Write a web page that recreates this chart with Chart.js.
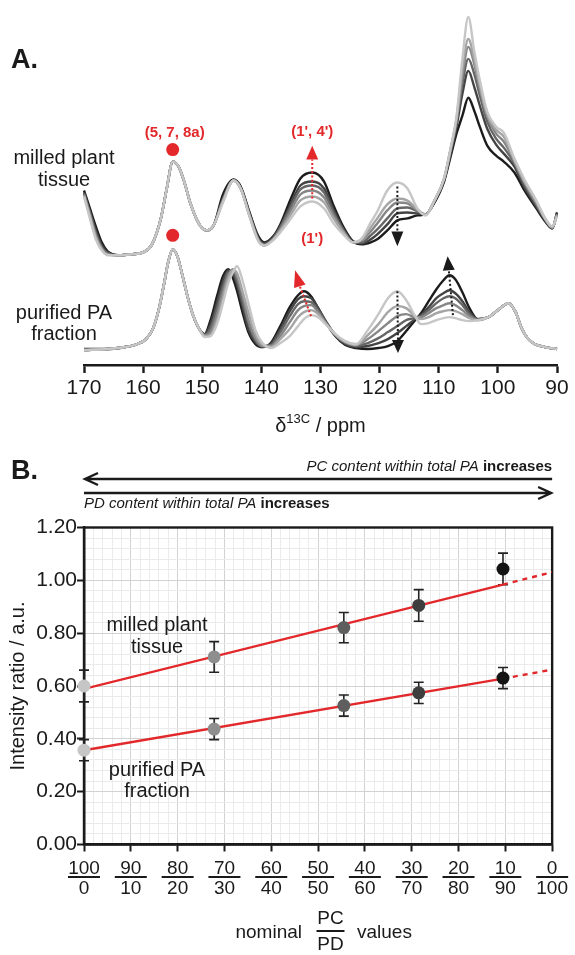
<!DOCTYPE html>
<html>
<head>
<meta charset="utf-8">
<script src="https://cdn.jsdelivr.net/npm/chart.js@4.4.1/dist/chart.umd.min.js"></script>
<style>
  body { margin: 0; background: #fff; }
  #wrap { position: relative; width: 575px; height: 955px; }
  canvas { position: absolute; left: 0; }
  #spectra { top: 0; }
  #ratio { top: 440px; }
</style>
</head>
<body>
<div id="wrap">
  <canvas id="spectra" width="575" height="440"></canvas>
  <canvas id="ratio" width="575" height="515"></canvas>
</div>
<script>
// ---- A. 13C spectra (intensity in a.u., traces offset) ----
const ppmMilled = [170, 169, 168, 167, 166, 164, 162, 160, 158.5, 157, 156, 155, 154, 153, 152, 150.5, 149.2, 148, 146.5, 144.7, 143.5, 142, 140.5, 139.5, 138, 136.8, 135, 133.4, 131.4, 129.4, 127.8, 126, 124.5, 123, 121.5, 120.4, 118.7, 117, 115.3, 113.6, 112.2, 110.8, 109.1, 108, 107, 106, 105, 104, 103, 101.8, 100.3, 99, 97.2, 95.5, 93.5, 92, 90.8, 90];

// darkest (1) to lightest (6)
const milled1 = [175, 157, 139, 123, 114, 110, 111, 113, 121, 147, 177, 204, 199, 183, 162, 141, 135, 141, 171, 186, 179, 153, 129, 123, 129, 141, 167, 187, 193, 184, 160, 137, 124, 121, 123, 126, 135, 145, 147, 150, 151, 162, 184, 209, 232, 250, 268, 255, 238, 220, 210, 204, 193, 175, 157, 144, 137, 153];
const milled2 = [173, 154, 135, 120, 113, 110, 111, 113, 121, 147, 177, 204, 199, 183, 162, 141, 135, 141, 167, 185, 178, 152, 127, 122, 128, 139, 162, 180, 184, 177, 156, 135, 124, 122, 126, 131, 141, 152, 153, 152, 151, 163, 185, 212, 239, 272, 295, 279, 259, 237, 221, 212, 199, 178, 159, 145, 137, 152];
const milled3 = [172, 152, 132, 118, 112, 110, 111, 113, 121, 147, 177, 204, 199, 183, 162, 141, 135, 141, 166, 185, 177, 151, 126, 121, 127, 138, 159, 176, 180, 173, 153, 134, 123, 123, 130, 136, 147, 157, 158, 154, 151, 164, 186, 214, 243, 282, 307, 292, 269, 244, 227, 218, 202, 181, 161, 146, 138, 151];
const milled4 = [171, 151, 130, 117, 111, 110, 111, 113, 121, 147, 177, 204, 199, 183, 162, 141, 135, 141, 165, 185, 177, 150, 125, 120, 126, 136, 155, 171, 175, 168, 150, 133, 123, 125, 134, 142, 155, 163, 162, 155, 151, 164, 187, 216, 245, 289, 319, 302, 275, 249, 232, 224, 204, 183, 162, 146, 138, 151];
const milled5 = [170, 149, 128, 116, 111, 110, 111, 113, 121, 147, 177, 204, 199, 183, 162, 141, 135, 141, 164, 185, 177, 149, 125, 120, 126, 135, 151, 165, 169, 163, 147, 132, 123, 126, 138, 147, 161, 167, 165, 156, 151, 164, 187, 217, 247, 297, 327, 307, 279, 251, 236, 229, 205, 184, 164, 147, 138, 150];
const milled6 = [169, 147, 126, 115, 110, 110, 111, 113, 121, 147, 177, 204, 199, 183, 162, 141, 135, 141, 163, 185, 177, 149, 124, 120, 125, 133, 147, 159, 164, 157, 142, 130, 123, 127, 143, 154, 175, 183, 177, 157, 150, 164, 187, 217, 249, 307, 349, 315, 284, 254, 239, 233, 207, 186, 165, 147, 139, 149];

const ppmPurified = [170, 166, 163, 161, 159.5, 158.3, 157.3, 156.5, 155.8, 155, 154.2, 153.4, 152.5, 151.5, 150.5, 149.6, 148.6, 147.5, 146.5, 145.6, 144.8, 144.1, 143.2, 142.2, 141, 139.8, 138.4, 136.8, 135.2, 133.8, 132.8, 131.6, 130.4, 129, 127.5, 125.8, 124, 122, 120.2, 118.6, 117, 115.5, 114, 113, 111.7, 110.4, 109.2, 108.2, 107.2, 106, 104.8, 103.4, 101.6, 100, 98.2, 97, 96, 95, 93.8, 92, 90];

const purified1 = [16, 16, 18, 21, 26, 37, 57, 80, 102, 116, 109, 91, 69, 49, 36, 31, 45, 69, 89, 96, 87, 74, 53, 33, 21, 18, 22, 39, 58, 70, 74, 69, 57, 42, 29, 20, 17, 16, 17, 19, 24, 34, 45, 52, 64, 76, 85, 90, 86, 73, 57, 46, 48, 55, 62, 53, 37, 27, 21, 18, 16];
const purified2 = [15, 16, 18, 21, 26, 37, 57, 80, 102, 116, 109, 91, 69, 49, 36, 31, 41, 63, 84, 95, 91, 80, 59, 36, 23, 18, 21, 36, 54, 66, 69, 67, 57, 43, 30, 21, 18, 19, 22, 26, 32, 39, 46, 50, 58, 67, 72, 75, 72, 64, 53, 46, 48, 55, 62, 53, 37, 27, 21, 18, 16];
const purified3 = [15, 16, 18, 21, 26, 37, 57, 80, 102, 116, 109, 91, 69, 49, 36, 30, 37, 57, 78, 93, 94, 84, 64, 42, 25, 19, 20, 33, 49, 61, 64, 63, 55, 42, 30, 22, 19, 22, 27, 33, 39, 45, 47, 49, 55, 62, 67, 69, 67, 60, 51, 46, 48, 55, 62, 53, 37, 27, 21, 18, 16];
const purified4 = [15, 16, 18, 21, 26, 37, 57, 80, 102, 116, 109, 91, 69, 49, 36, 30, 33, 51, 73, 90, 96, 88, 70, 45, 27, 19, 19, 29, 43, 55, 59, 60, 53, 41, 30, 23, 20, 26, 34, 42, 49, 51, 48, 48, 52, 57, 60, 62, 60, 55, 49, 45, 48, 55, 62, 53, 37, 27, 21, 18, 16];
const purified5 = [15, 16, 18, 21, 26, 37, 57, 80, 102, 116, 109, 91, 69, 49, 36, 29, 30, 45, 67, 87, 95, 92, 74, 53, 31, 20, 18, 26, 36, 48, 53, 55, 51, 41, 31, 23, 20, 30, 41, 53, 59, 57, 49, 46, 48, 52, 54, 55, 54, 51, 47, 45, 48, 55, 62, 53, 37, 27, 21, 18, 16];
const purified6 = [15, 16, 18, 21, 26, 37, 57, 80, 102, 116, 109, 91, 69, 49, 36, 28, 29, 41, 62, 82, 93, 99, 85, 62, 35, 22, 17, 22, 29, 39, 46, 50, 48, 40, 31, 24, 21, 35, 51, 67, 74, 65, 49, 41, 42, 45, 47, 48, 47, 45, 44, 45, 48, 55, 62, 53, 37, 27, 21, 18, 16];

// ---- B. intensity ratio vs nominal PC content ----
const pcContent = [100, 72.2, 44.5, 28.5, 10.5];
const milledRatio = [0.600, 0.710, 0.821, 0.905, 1.043];
const milledErr = [0.060, 0.058, 0.057, 0.060, 0.060];
const purifiedRatio = [0.357, 0.437, 0.526, 0.574, 0.630];
const purifiedErr = [0.040, 0.040, 0.040, 0.040, 0.040];
const fitPC = [100, 10.5, 0];
const milledFit = [0.589, 0.984, 1.031];
const purifiedFit = [0.357, 0.628, 0.662];

const shades = ["#1c1c1c", "#444444", "#666666", "#868686", "#a5a5a5", "#c6c6c6"];
const pointShades = ["#c6c6c6", "#8e8e8e", "#5e5e5e", "#3e3e3e", "#141414"];
const red = "#e2282a";
const ink = "#1a1a1a";
const FONT = "'Liberation Sans', Arial, sans-serif";

Chart.defaults.font.family = FONT;
Chart.defaults.color = ink;

function traceSets(ppm, series) {
    return series.map((vals, i) => ({
        data: vals.map((v, j) => ({ x: ppm[j], y: v })),
        borderColor: shades[i],
        borderWidth: 2.4,
        pointRadius: 0,
        cubicInterpolationMode: "monotone",
        order: series.length - i, // lighter traces drawn on top
        clip: false,
    }));
}

function dot(ctx, x, y, r, color) {
    ctx.fillStyle = color;
    ctx.beginPath();
    ctx.arc(x, y, r, 0, Math.PI * 2);
    ctx.fill();
}

// dotted shaft from tail to base, filled head from base to tip
function arrow(ctx, tail, base, tip, color, half) {
    ctx.strokeStyle = color;
    ctx.fillStyle = color;
    ctx.lineWidth = 2;
    ctx.setLineDash([2, 2.2]);
    ctx.beginPath();
    ctx.moveTo(tail[0], tail[1]);
    ctx.lineTo(base[0], base[1]);
    ctx.stroke();
    ctx.setLineDash([]);
    const dx = tip[0] - base[0], dy = tip[1] - base[1];
    const len = Math.hypot(dx, dy);
    const nx = -dy / len * half, ny = dx / len * half;
    ctx.beginPath();
    ctx.moveTo(tip[0], tip[1]);
    ctx.lineTo(base[0] + nx, base[1] + ny);
    ctx.lineTo(base[0] - nx, base[1] - ny);
    ctx.closePath();
    ctx.fill();
}

function text(ctx, str, x, y, font, color, align) {
    ctx.font = font;
    ctx.fillStyle = color || ink;
    ctx.textAlign = align || "center";
    ctx.textBaseline = "middle";
    ctx.fillText(str, x, y);
}

// annotations for the spectra
const spectraNotes = {
    id: "spectraNotes",
    afterDraw(chart) {
        const { ctx } = chart;
        const sx = chart.scales.x, sy = chart.scales.y;
        const P = (ppm, h) => [sx.getPixelForValue(ppm), sy.getPixelForValue(h)];
        ctx.save();

        text(ctx, "A.", 11, 61, "bold 27px " + FONT, ink, "left");
        text(ctx, "milled plant", 64, 158, "20px " + FONT);
        text(ctx, "tissue", 64, 180, "20px " + FONT);
        text(ctx, "purified PA", 64, 313, "20px " + FONT);
        text(ctx, "fraction", 64, 334, "20px " + FONT);

        // red markers
        let p = P(155, 233);
        text(ctx, "(5, 7, 8a)", p[0] + 2, p[1], "bold 15px " + FONT, red);
        p = P(155, 216);
        dot(ctx, p[0], p[1], 6.5, red);
        p = P(155, 130);
        dot(ctx, p[0], p[1], 6.5, red);
        p = P(131.4, 234);
        text(ctx, "(1', 4')", p[0], p[1], "bold 15px " + FONT, red);
        p = P(131.4, 127);
        text(ctx, "(1')", p[0], p[1], "bold 15px " + FONT, red);

        arrow(ctx, P(131.4, 167), P(131.4, 206), P(131.4, 220), red, 6);
        arrow(ctx, P(131.6, 49), P(133.5, 79), P(134.3, 95), red, 6);
        arrow(ctx, P(117, 179), P(117, 134), P(117, 119), ink, 6);
        arrow(ctx, P(107.6, 50), P(108.3, 95), P(108.5, 109), ink, 6);
        arrow(ctx, P(117, 74), P(116.9, 25), P(116.9, 12), ink, 6);

        // axis title with superscript
        const cx = (chart.chartArea.left + chart.chartArea.right) / 2;
        const base = 432;
        ctx.textBaseline = "alphabetic";
        ctx.textAlign = "left";
        ctx.font = "20px " + FONT;
        const w1 = ctx.measureText("\u03b4").width;
        const w3 = ctx.measureText(" / ppm").width;
        ctx.font = "13px " + FONT;
        const w2 = ctx.measureText("13C").width;
        let x0 = cx - (w1 + w2 + w3) / 2;
        ctx.fillStyle = ink;
        ctx.font = "20px " + FONT;
        ctx.fillText("\u03b4", x0, base);
        ctx.font = "13px " + FONT;
        ctx.fillText("13C", x0 + w1, base - 9);
        ctx.font = "20px " + FONT;
        ctx.fillText(" / ppm", x0 + w1 + w2, base);
        ctx.restore();
    },
};

new Chart(document.getElementById("spectra"), {
    type: "line",
    data: {
        datasets: [
            ...traceSets(ppmMilled, [milled1, milled2, milled3, milled4, milled5, milled6]),
            ...traceSets(ppmPurified, [purified1, purified2, purified3, purified4, purified5, purified6]),
        ],
    },
    options: {
        responsive: false,
        animation: false,
        layout: { padding: { top: 16, left: 84, right: 18, bottom: 0 } },
        plugins: { legend: { display: false }, tooltip: { enabled: false } },
        scales: {
            x: {
                type: "linear",
                min: 90,
                max: 170,
                reverse: true,
                afterFit: (s) => { s.height = 75; },
                ticks: {
                    stepSize: 10,
                    maxRotation: 0,
                    padding: 5,
                    color: ink,
                    font: { size: 21, lineHeight: 1 },
                },
                grid: { drawOnChartArea: false, tickLength: 8, tickColor: ink, tickWidth: 2.4 },
                border: { color: ink, width: 2.4 },
            },
            y: { display: false, min: 0, max: 350 },
        },
    },
    plugins: [spectraNotes],
});

// ---- B. ratio chart ----
const isMajorY = (v) => Math.abs(Math.round(v / 0.2) * 0.2 - v) < 1e-6;
const isMajorX = (v) => Math.round(v) % 10 === 0;

function errorBars(ctx, sx, sy, xs, ys, es) {
    ctx.strokeStyle = "#222";
    ctx.lineWidth = 1.6;
    xs.forEach((xv, i) => {
        const x = sx.getPixelForValue(xv);
        const y1 = sy.getPixelForValue(ys[i] + es[i]);
        const y2 = sy.getPixelForValue(ys[i] - es[i]);
        ctx.beginPath();
        ctx.moveTo(x, y1); ctx.lineTo(x, y2);
        ctx.moveTo(x - 5, y1); ctx.lineTo(x + 5, y1);
        ctx.moveTo(x - 5, y2); ctx.lineTo(x + 5, y2);
        ctx.stroke();
    });
}

const ratioNotes = {
    id: "ratioNotes",
    beforeDatasetsDraw(chart) {
        const { ctx, chartArea: a } = chart;
        ctx.save();
        ctx.strokeStyle = ink;
        ctx.lineWidth = 2.4;
        ctx.strokeRect(a.left, a.top, a.right - a.left, a.bottom - a.top);
        errorBars(ctx, chart.scales.x, chart.scales.y, pcContent, milledRatio, milledErr);
        errorBars(ctx, chart.scales.x, chart.scales.y, pcContent, purifiedRatio, purifiedErr);
        ctx.restore();
    },
    afterDraw(chart) {
        const { ctx, chartArea: a } = chart;
        const sx = chart.scales.x;
        ctx.save();
        text(ctx, "B.", 11, 32, "bold 27px " + FONT, ink, "left");

        // direction arrows
        ctx.strokeStyle = ink;
        ctx.lineWidth = 2.4;
        ctx.beginPath();
        ctx.moveTo(a.left + 1, 39); ctx.lineTo(a.right, 39);
        ctx.moveTo(a.left + 14, 33); ctx.lineTo(a.left + 1, 39); ctx.lineTo(a.left + 14, 45);
        ctx.moveTo(a.left, 53); ctx.lineTo(a.right - 1, 53);
        ctx.moveTo(a.right - 14, 47); ctx.lineTo(a.right - 1, 53); ctx.lineTo(a.right - 14, 59);
        ctx.stroke();

        ctx.textBaseline = "middle";
        ctx.textAlign = "left";
        ctx.fillStyle = ink;
        ctx.font = "bold 15px " + FONT;
        const wb = ctx.measureText("increases").width;
        ctx.font = "italic 15px " + FONT;
        const wi = ctx.measureText("PC content within total PA ").width;
        ctx.fillText("PC content within total PA ", a.right - wb - wi, 27);
        ctx.fillText("PD content within total PA ", a.left, 64);
        const wi2 = ctx.measureText("PD content within total PA ").width;
        ctx.font = "bold 15px " + FONT;
        ctx.fillText("increases", a.right - wb, 27);
        ctx.fillText("increases", a.left + wi2, 64);

        // series labels
        text(ctx, "milled plant", 157, 185, "20px " + FONT);
        text(ctx, "tissue", 157, 207, "20px " + FONT);
        text(ctx, "purified PA", 157, 330, "20px " + FONT);
        text(ctx, "fraction", 157, 351, "20px " + FONT);

        // fraction bars under the tick numerators
        ctx.strokeStyle = ink;
        ctx.lineWidth = 2;
        sx.ticks.forEach((t) => {
            if (!isMajorX(t.value)) return;
            const x = sx.getPixelForValue(t.value);
            ctx.beginPath();
            ctx.moveTo(x - 16, 437); ctx.lineTo(x + 16, 437);
            ctx.stroke();
        });

        // x axis title: nominal PC/PD values
        ctx.font = "19px " + FONT;
        ctx.fillStyle = ink;
        ctx.textAlign = "right";
        ctx.fillText("nominal", 302, 493);
        ctx.textAlign = "left";
        ctx.fillText("values", 357, 493);
        ctx.textAlign = "center";
        ctx.fillText("PC", 330.5, 479);
        ctx.fillText("PD", 330.5, 505);
        ctx.beginPath();
        ctx.moveTo(316.5, 491); ctx.lineTo(344.5, 491);
        ctx.stroke();
        ctx.restore();
    },
};

new Chart(document.getElementById("ratio"), {
    type: "scatter",
    data: {
        datasets: [
            {
                data: pcContent.map((x, i) => ({ x, y: milledRatio[i] })),
                pointRadius: 6.5,
                pointBackgroundColor: pointShades,
                pointBorderWidth: 0,
                order: 0,
                clip: false,
            },
            {
                data: pcContent.map((x, i) => ({ x, y: purifiedRatio[i] })),
                pointRadius: 6.5,
                pointBackgroundColor: pointShades,
                pointBorderWidth: 0,
                order: 0,
                clip: false,
            },
            {
                data: fitPC.slice(0, 2).map((x, i) => ({ x, y: milledFit[i] })),
                showLine: true, pointRadius: 0, borderColor: red, borderWidth: 2.4, order: 1,
            },
            {
                data: fitPC.slice(1).map((x, i) => ({ x, y: milledFit[i + 1] })),
                showLine: true, pointRadius: 0, borderColor: red, borderWidth: 2.4, borderDash: [5, 5], order: 1,
            },
            {
                data: fitPC.slice(0, 2).map((x, i) => ({ x, y: purifiedFit[i] })),
                showLine: true, pointRadius: 0, borderColor: red, borderWidth: 2.4, order: 1,
            },
            {
                data: fitPC.slice(1).map((x, i) => ({ x, y: purifiedFit[i + 1] })),
                showLine: true, pointRadius: 0, borderColor: red, borderWidth: 2.4, borderDash: [5, 5], order: 1,
            },
        ],
    },
    options: {
        responsive: false,
        animation: false,
        layout: { padding: { top: 87.5, left: 0, right: 18, bottom: 0 } },
        plugins: { legend: { display: false }, tooltip: { enabled: false } },
        scales: {
            x: {
                type: "linear",
                min: 0,
                max: 100,
                reverse: true,
                afterFit: (s) => { s.height = 110.5; },
                ticks: {
                    stepSize: 2,
                    autoSkip: false,
                    minRotation: 0,
                    maxRotation: 0,
                    padding: 7,
                    color: ink,
                    font: { size: 19, lineHeight: 1.05 },
                    callback: (v) => (isMajorX(v) ? [String(Math.round(v)), String(100 - Math.round(v))] : ""),
                },
                grid: {
                    color: (c) => (isMajorX(c.tick.value) ? "#d2d2d2" : "#ebebeb"),
                    tickColor: (c) => (isMajorX(c.tick.value) ? ink : "rgba(0,0,0,0)"),
                    tickLength: 7,
                    tickWidth: 2,
                    lineWidth: 1,
                },
                border: { color: ink, width: 2.4 },
            },
            y: {
                min: 0,
                max: 1.2,
                afterFit: (s) => { s.width = 84; },
                title: {
                    display: true,
                    text: "Intensity ratio / a.u.",
                    font: { size: 20 },
                    color: ink,
                    padding: { top: 6, bottom: 0 },
                },
                ticks: {
                    stepSize: 0.04,
                    autoSkip: false,
                    padding: 0,
                    color: ink,
                    font: { size: 21 },
                    callback: (v) => (isMajorY(v) ? v.toFixed(2) : ""),
                },
                grid: {
                    color: (c) => (isMajorY(c.tick.value) ? "#d2d2d2" : "#ebebeb"),
                    tickColor: (c) => (isMajorY(c.tick.value) ? ink : "rgba(0,0,0,0)"),
                    tickLength: 7,
                    tickWidth: 2,
                    lineWidth: 1,
                },
                border: { color: ink, width: 2.4 },
            },
        },
    },
    plugins: [ratioNotes],
});
</script>
</body>
</html>
